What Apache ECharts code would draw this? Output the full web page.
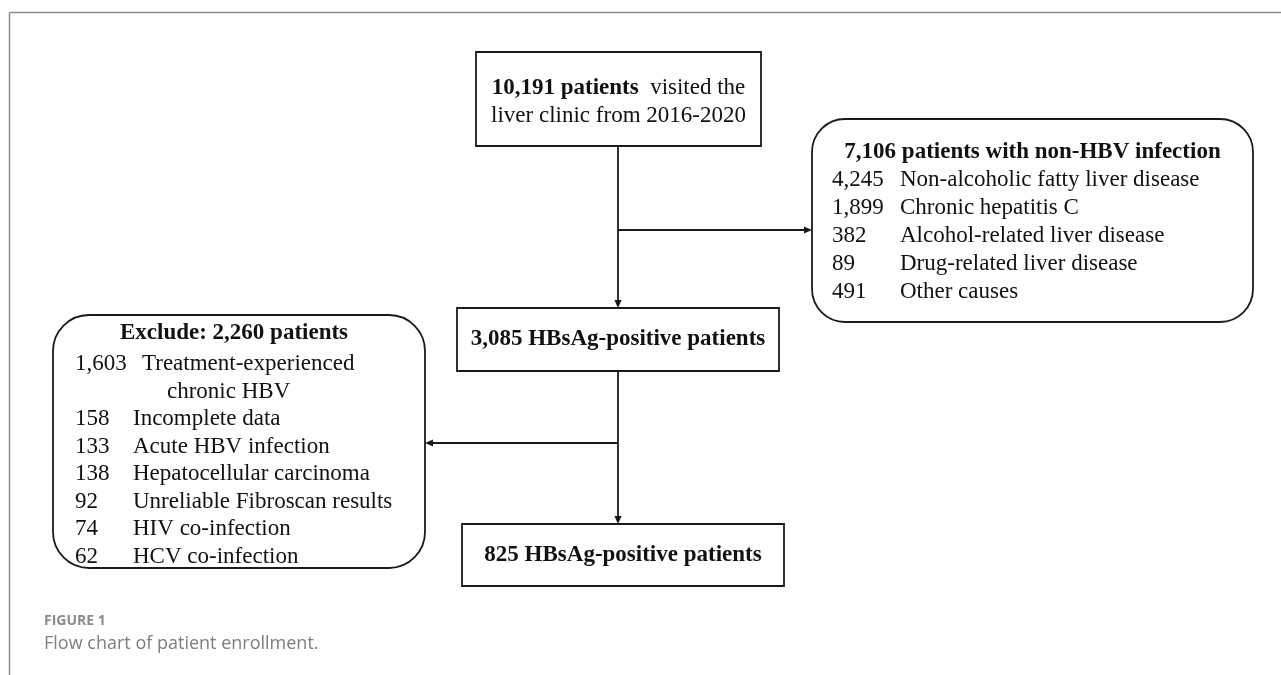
<!DOCTYPE html>
<html>
<head>
<meta charset="utf-8">
<script src="https://cdn.jsdelivr.net/npm/echarts@6/dist/echarts.min.js"></script>
<style>
  html, body { margin: 0; padding: 0; background: #ffffff; }
  #chart { width: 1281px; height: 675px; }
</style>
</head>
<body>
<div id="chart"></div>
<script>
// ---------------- DATA ----------------
const studyYears = ['2016', '2020'];
const visitedTotal = 10191;
const nonHbvTotal = 7106;
const nonHbvCauses = [
  'Non-alcoholic fatty liver disease',
  'Chronic hepatitis C',
  'Alcohol-related liver disease',
  'Drug-related liver disease',
  'Other causes'
];
const nonHbvCounts = [4245, 1899, 382, 89, 491];
const hbsagPositive = 3085;
const excludedTotal = 2260;
const excludeReasons = [
  'Treatment-experienced\nchronic HBV',
  'Incomplete data',
  'Acute HBV infection',
  'Hepatocellular carcinoma',
  'Unreliable Fibroscan results',
  'HIV co-infection',
  'HCV co-infection'
];
const excludeCounts = [1603, 158, 133, 138, 92, 74, 62];
const enrolledTotal = 825;
const captionLabel = 'FIGURE 1';
const captionText = 'Flow chart of patient enrollment.';

// ---------------- LAYOUT (canvas units) ----------------
const W = 1281, H = 675;
const L = {
  frame: { x: 9.5, y: 12.5 },
  top: { x: 476, y: 52, w: 285, h: 94, line1: 88, line2: 116 },
  nonHbv: { x: 812, y: 119, w: 441, h: 203, r: 33, headY: 152, rowY: 180, step: 28, numX: 832, labX: 900 },
  hbsag: { x: 457, y: 308, w: 322, h: 63 },
  exclude: { x: 53, y: 315, w: 372, h: 253, r: 36, headX: 234, headY: 333, rowY: 364, step: 27.5, numX: 75, labX: 133, wideLabX: 142, contX: 167 },
  enrolled: { x: 462, y: 524, w: 322, h: 62 },
  spineX: 618, toNonHbvY: 230, toExcludeY: 443,
  cap1: { x: 44, y: 621 }, cap2: { x: 44, y: 644 }
};

const fmt = n => n.toLocaleString('en-US');
const SERIF = '"Liberation Serif", "Times New Roman", "DejaVu Serif", serif';
const FS = 23;
const INK = '#111111';
const STROKE = { stroke: '#1a1a1a', lineWidth: 1.8, fill: '#ffffff' };

function renderItem(params, api) {
  const P = (x, y) => api.coord([x, y]);
  const kids = [];

  function box(b) {
    const p0 = P(b.x, b.y), p1 = P(b.x + b.w, b.y + b.h);
    kids.push({
      type: 'rect',
      shape: { x: p0[0], y: p0[1], width: p1[0] - p0[0], height: p1[1] - p0[1], r: b.r || 0 },
      style: Object.assign({}, STROKE)
    });
  }
  function line(x0, y0, x1, y1, style) {
    const a = P(x0, y0), b = P(x1, y1);
    kids.push({
      type: 'line',
      shape: { x1: a[0], y1: a[1], x2: b[0], y2: b[1] },
      style: Object.assign({ stroke: '#1a1a1a', lineWidth: 1.8 }, style || {})
    });
  }
  function arrow(x0, y0, x1, y1) {
    const len = 8, half = 3.6;
    const dx = x1 - x0, dy = y1 - y0, d = Math.hypot(dx, dy);
    const ux = dx / d, uy = dy / d;
    const bx = x1 - ux * len, by = y1 - uy * len;
    line(x0, y0, bx, by);
    const pts = [[x1, y1], [bx - uy * half, by + ux * half], [bx + uy * half, by - ux * half]].map(q => P(q[0], q[1]));
    kids.push({ type: 'polygon', shape: { points: pts }, style: { fill: '#1a1a1a' } });
  }
  function text(x, y, str, opt) {
    const p = P(x, y);
    kids.push({
      type: 'text',
      x: p[0], y: p[1],
      style: Object.assign({
        text: str,
        fill: INK,
        font: 'normal ' + FS + 'px ' + SERIF,
        align: 'left',
        verticalAlign: 'middle'
      }, opt || {})
    });
  }

  // outer frame
  line(L.frame.x, L.frame.y, W, L.frame.y, { stroke: '#8c8c8c', lineWidth: 1.5 });
  line(L.frame.x, L.frame.y, L.frame.x, H, { stroke: '#8c8c8c', lineWidth: 1.5 });

  // connectors
  line(L.spineX, L.top.y + L.top.h, L.spineX, L.toNonHbvY);
  arrow(L.spineX, L.toNonHbvY, L.spineX, L.hbsag.y);
  arrow(L.spineX, L.toNonHbvY, L.nonHbv.x, L.toNonHbvY);
  line(L.spineX, L.hbsag.y + L.hbsag.h, L.spineX, L.toExcludeY);
  arrow(L.spineX, L.toExcludeY, L.spineX, L.enrolled.y);
  arrow(L.spineX, L.toExcludeY, L.exclude.x + L.exclude.w, L.toExcludeY);

  // boxes
  box(L.top); box(L.nonHbv); box(L.hbsag); box(L.exclude); box(L.enrolled);

  const boldFont = 'bold ' + FS + 'px ' + SERIF;
  const regFont = 'normal ' + FS + 'px ' + SERIF;
  const cx = b => b.x + b.w / 2;

  // top box
  text(cx(L.top), L.top.line1, '{b|' + fmt(visitedTotal) + ' patients}{r|  visited the}', {
    align: 'center', rich: { b: { font: boldFont, fill: INK }, r: { font: regFont, fill: INK } }
  });
  text(cx(L.top), L.top.line2, 'liver clinic from ' + studyYears[0] + '-' + studyYears[1], { align: 'center' });

  // non-HBV box
  text(cx(L.nonHbv), L.nonHbv.headY, fmt(nonHbvTotal) + ' patients with non-HBV infection', { align: 'center', font: boldFont });
  nonHbvCounts.forEach((c, i) => {
    const y = L.nonHbv.rowY + i * L.nonHbv.step;
    text(L.nonHbv.numX, y, fmt(c));
    text(L.nonHbv.labX, y, nonHbvCauses[i]);
  });

  // HBsAg box
  text(cx(L.hbsag), L.hbsag.y + L.hbsag.h / 2, fmt(hbsagPositive) + ' HBsAg-positive patients', { align: 'center', font: boldFont });

  // exclude box
  text(L.exclude.headX, L.exclude.headY, 'Exclude: ' + fmt(excludedTotal) + ' patients', { align: 'center', font: boldFont });
  let row = 0;
  excludeCounts.forEach((c, i) => {
    const parts = excludeReasons[i].split('\n');
    const y = L.exclude.rowY + row * L.exclude.step;
    const s = fmt(c);
    text(L.exclude.numX, y, s);
    text(s.length > 3 ? L.exclude.wideLabX : L.exclude.labX, y, parts[0]);
    row++;
    for (let k = 1; k < parts.length; k++) {
      text(L.exclude.contX, L.exclude.rowY + row * L.exclude.step, parts[k]);
      row++;
    }
  });

  // enrolled box
  text(cx(L.enrolled), L.enrolled.y + L.enrolled.h / 2, fmt(enrolledTotal) + ' HBsAg-positive patients', { align: 'center', font: boldFont });

  // caption
  text(L.cap1.x, L.cap1.y, captionLabel, { font: 'bold 14px "Open Sans", "Noto Sans", sans-serif', fill: '#8a8a8a' });
  text(L.cap2.x, L.cap2.y, captionText, { font: 'normal 18px "Open Sans", "Noto Sans", sans-serif', fill: '#7d7d7d' });

  return { type: 'group', children: kids };
}

const chart = echarts.init(document.getElementById('chart'), null, { renderer: 'canvas' });
chart.setOption({
  backgroundColor: '#ffffff',
  animation: false,
  grid: { left: 0, right: 0, top: 0, bottom: 0 },
  xAxis: { type: 'value', min: 0, max: W, show: false },
  yAxis: { type: 'value', min: 0, max: H, inverse: true, show: false },
  series: [{
    type: 'custom',
    coordinateSystem: 'cartesian2d',
    renderItem: renderItem,
    data: [[0, 0]],
    silent: true,
    clip: false
  }]
});
</script>
</body>
</html>
